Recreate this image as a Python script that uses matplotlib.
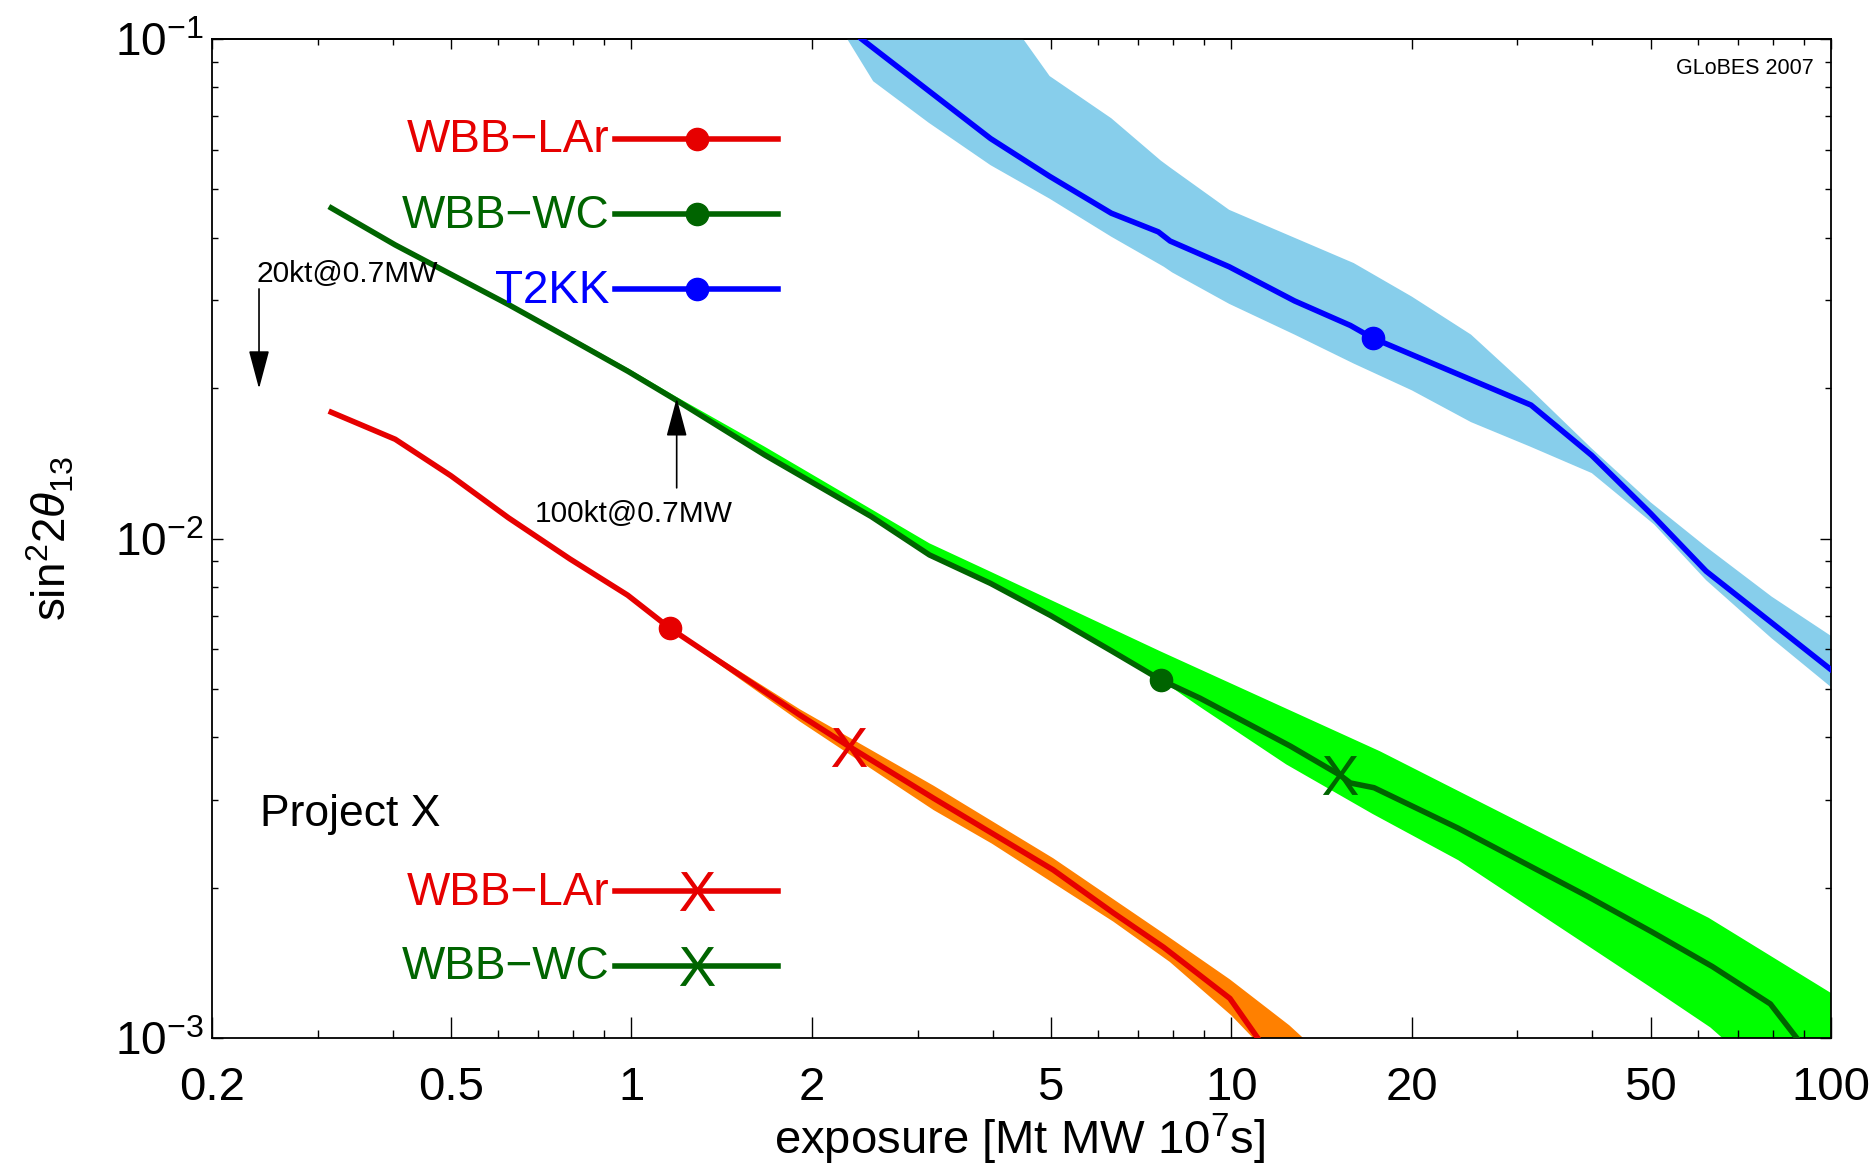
import matplotlib.pyplot as plt
from matplotlib.ticker import FixedLocator, FixedFormatter, NullFormatter, LogLocator

plt.rcParams['font.family'] = ['Liberation Sans', 'DejaVu Sans']
plt.rcParams['mathtext.fontset'] = 'custom'
plt.rcParams['mathtext.rm'] = 'Liberation Sans'
plt.rcParams['mathtext.it'] = 'Liberation Sans:italic'
plt.rcParams['mathtext.bf'] = 'Liberation Sans:bold'

# WBB-LAr (red line, orange band)
lar_x = [0.316, 0.404, 0.5, 0.624, 0.79, 0.986, 1.16, 1.91, 2.31, 3.19, 5.05, 6.36, 7.71, 9.95, 11.2]
lar_y = [0.0179, 0.0158, 0.01336, 0.0110, 0.0091, 0.0077, 0.00661, 0.00443, 0.00383, 0.00302,
         0.00217, 0.00178, 0.00152, 0.0012, 0.00098]
lar_hi_x = [0.316, 0.404, 0.5, 0.624, 0.79, 0.986, 1.16, 1.91, 3.19, 5.05, 7.71, 9.95, 12.5, 13.3, 14.0]
lar_hi_y = [0.0180, 0.0159, 0.01344, 0.01107, 0.00916, 0.00775, 0.00665, 0.00455, 0.0032,
            0.00229, 0.00162, 0.00131, 0.00106, 0.00099, 0.0009]
lar_lo_x = [0.316, 0.404, 0.5, 0.624, 0.79, 0.986, 1.16, 1.91, 3.19, 3.99, 6.36, 7.9, 10.0, 10.96, 11.5]
lar_lo_y = [0.0178, 0.0157, 0.01328, 0.01093, 0.00904, 0.00765, 0.00657, 0.0043, 0.00286,
            0.00245, 0.00171, 0.00142, 0.00111, 0.00099, 0.0009]

# WBB-WC (dark green line, green band)
wc_x = [0.316, 0.404, 0.624, 0.786, 0.988, 1.19, 1.668, 2.51, 3.14, 3.97, 5.0, 6.34, 7.63,
        8.87, 12.55, 15.18, 15.8, 17.3, 23.9, 39.3, 50.3, 63.4, 79.2, 88.2]
wc_y = [0.0459, 0.0387, 0.0294, 0.0252, 0.0216, 0.0189, 0.0147, 0.01107, 0.00927, 0.00813,
        0.00701, 0.00594, 0.00521, 0.00479, 0.00384, 0.00336, 0.00324, 0.00317, 0.00263,
        0.00192, 0.00163, 0.00139, 0.00117, 0.00099]
wc_hi_x = [0.316, 0.404, 0.624, 0.786, 0.988, 1.19, 1.668, 3.14, 3.97, 7.63, 17.7, 49.7, 62.5, 100]
wc_hi_y = [0.0463, 0.0391, 0.0297, 0.0255, 0.0219, 0.0192, 0.01527, 0.00978, 0.00858, 0.00594,
           0.00375, 0.0020, 0.00174, 0.00123]
wc_lo_x = [0.316, 0.404, 0.624, 0.786, 0.988, 1.19, 1.668, 2.51, 3.14, 3.97, 5.0, 6.34, 7.63,
           8.87, 12.35, 17.2, 23.9, 39.3, 49.7, 62.9, 66.5, 80, 100]
wc_lo_y = [0.0459, 0.0387, 0.0294, 0.0252, 0.0216, 0.0189, 0.0147, 0.01107, 0.00927, 0.00813,
           0.00701, 0.00594, 0.00521, 0.0046, 0.00353, 0.00281, 0.00227, 0.00153, 0.00127,
           0.00105, 0.00099, 0.0008, 0.00065]

# T2KK (blue line, light blue band)
t2kk_x = [2.42, 3.97, 4.98, 6.31, 7.56, 7.91, 9.92, 12.75, 15.8, 17.2, 31.6, 39.9, 50.0, 61.9, 79.6, 100]
t2kk_y = [0.100, 0.0632, 0.0531, 0.0448, 0.0411, 0.0394, 0.0350, 0.0299, 0.0267, 0.0252,
          0.0185, 0.01467, 0.01123, 0.0086, 0.00678, 0.00546]
t2kk_hi_x = [2.2, 4.5, 4.98, 6.31, 7.63, 7.91, 9.92, 16.0, 20.0, 25.1, 31.4, 39.9, 50, 61.9, 79.6, 100]
t2kk_hi_y = [0.2, 0.1, 0.0843, 0.0694, 0.0571, 0.0553, 0.0455, 0.0356, 0.0305, 0.0256, 0.0200,
             0.01514, 0.01182, 0.00962, 0.00765, 0.00638]
t2kk_lo_x = [2.2, 2.29, 2.53, 3.13, 3.97, 4.98, 6.31, 7.72, 7.97, 9.92, 12.75, 16.0, 20.0, 25.1,
             31.4, 39.9, 50.7, 61.9, 79.6, 100]
t2kk_lo_y = [0.11, 0.1, 0.0823, 0.068, 0.0559, 0.0479, 0.0402, 0.035, 0.0341, 0.0295, 0.0256,
             0.0224, 0.0198, 0.0171, 0.0153, 0.01352, 0.01067, 0.00825, 0.00631, 0.00504]

# index of the dot / X marker on each line
lar_dot, lar_cross = 6, 8
wc_dot, wc_cross = 12, 15
t2kk_dot = 9

xticks_major = [0.2, 0.5, 1, 2, 5, 10, 20, 50, 100]
xtick_labels = ['0.2', '0.5', '1', '2', '5', '10', '20', '50', '100']
xticks_minor = [0.3, 0.4, 0.6, 0.7, 0.8, 0.9, 3, 4, 6, 7, 8, 9, 30, 40, 60, 70, 80, 90]

RED = '#e60000'
ORANGE = '#ff8000'
DKGREEN = '#006400'
GREEN = '#00ff00'
BLUE = '#0000ff'
SKY = '#87ceeb'
LW = 4.0
CROSS = r'$\mathrm{X}$'

fig = plt.figure(figsize=(18.75, 11.68), dpi=100)
ax = fig.add_axes([0.1131, 0.1113, 0.8635, 0.8553])
ax.set_xscale('log')
ax.set_yscale('log')
ax.set_xlim(0.2, 100)
ax.set_ylim(1e-3, 1e-1)


def band(xh, yh, xl, yl, color):
    px = list(xh) + list(xl)[::-1]
    py = list(yh) + list(yl)[::-1]
    ax.fill(px, py, color=color, lw=0, zorder=1)


band(lar_hi_x, lar_hi_y, lar_lo_x, lar_lo_y, ORANGE)
band(wc_hi_x, wc_hi_y, wc_lo_x, wc_lo_y, GREEN)
band(t2kk_hi_x, t2kk_hi_y, t2kk_lo_x, t2kk_lo_y, SKY)

ax.plot(lar_x, lar_y, color=RED, lw=LW, zorder=3)
ax.plot(wc_x, wc_y, color=DKGREEN, lw=LW, zorder=3)
ax.plot(t2kk_x, t2kk_y, color=BLUE, lw=LW, zorder=3)

ax.plot(lar_x, lar_y, ls='none', marker='o', ms=16, color=RED, markevery=[lar_dot], zorder=4)
ax.plot(wc_x, wc_y, ls='none', marker='o', ms=16, color=DKGREEN, markevery=[wc_dot], zorder=4)
ax.plot(t2kk_x, t2kk_y, ls='none', marker='o', ms=16, color=BLUE, markevery=[t2kk_dot], zorder=4)
ax.plot(lar_x, lar_y, ls='none', marker=CROSS, ms=28, mew=0, color=RED,
        markevery=[lar_cross], zorder=4)
ax.plot(wc_x, wc_y, ls='none', marker=CROSS, ms=28, mew=0, color=DKGREEN,
        markevery=[wc_cross], zorder=4)

# hand-made legend: text on the left, line sample on the right
def key(ypos, label, color, marker, ms, mew):
    ax.text(0.2452, ypos - 0.0135, label, color=color, fontsize=33,
            ha='right', va='baseline', transform=ax.transAxes)
    ax.plot([0.2489, 0.3496], [ypos, ypos], color=color, lw=LW, transform=ax.transAxes,
            clip_on=False)
    ax.plot([0.2996], [ypos], marker=marker, ms=ms, mew=mew, color=color,
            transform=ax.transAxes, clip_on=False)


key(0.8999, 'WBB\u2212LAr', RED, 'o', 16, 1)
key(0.8248, 'WBB\u2212WC', DKGREEN, 'o', 16, 1)
key(0.7497, 'T2KK', BLUE, 'o', 16, 1)
ax.text(0.0296, 0.2122, 'Project X', fontsize=32, ha='left', va='baseline',
        transform=ax.transAxes)
key(0.1471, 'WBB\u2212LAr', RED, CROSS, 28, 0)
key(0.0724, 'WBB\u2212WC', DKGREEN, CROSS, 28, 0)

# exposure annotations
arrow = dict(arrowstyle='-|>,head_length=1.2,head_width=0.32', color='black', lw=1.2,
             shrinkA=0, shrinkB=0, mutation_scale=20)
ax.annotate('', xy=(0.2395, 0.01995), xytext=(0.2395, 0.0316), arrowprops=arrow, zorder=5)
ax.text(0.2375, 0.0338, '20kt@0.7MW', fontsize=21.5, ha='left', va='center')
ax.annotate('', xy=(1.19, 0.0191), xytext=(1.19, 0.01263), arrowprops=arrow, zorder=5)
ax.text(0.691, 0.0112, '100kt@0.7MW', fontsize=21.5, ha='left', va='center')

ax.text(0.989, 0.97, 'GLoBES 2007', fontsize=15.5, ha='right', va='center',
        transform=ax.transAxes)

# axes, ticks and labels
ax.xaxis.set_major_locator(FixedLocator(xticks_major))
ax.xaxis.set_major_formatter(FixedFormatter(xtick_labels))
ax.xaxis.set_minor_locator(FixedLocator(xticks_minor))
ax.xaxis.set_minor_formatter(NullFormatter())
ax.yaxis.set_minor_locator(LogLocator(base=10, subs=range(2, 10)))
ax.yaxis.set_minor_formatter(NullFormatter())

ax.tick_params(axis='x', which='major', direction='in', length=15, width=1, labelsize=34, pad=20)
ax.tick_params(axis='x', which='minor', direction='in', length=5.5, width=1)
ax.tick_params(axis='y', which='major', direction='in', length=8, width=1, labelsize=33,
               pad=6, left=True, right=True)
ax.tick_params(axis='y', which='minor', direction='in', length=4.3, width=1, left=True, right=True)

top = ax.secondary_xaxis('top')
top.xaxis.set_major_locator(FixedLocator(xticks_major))
top.xaxis.set_minor_locator(FixedLocator(xticks_minor))
top.xaxis.set_major_formatter(NullFormatter())
top.xaxis.set_minor_formatter(NullFormatter())
top.tick_params(which='major', direction='in', length=7, width=1)
top.tick_params(which='minor', direction='in', length=4, width=1)

for s in ax.spines.values():
    s.set_linewidth(1.3)
top.spines['top'].set_linewidth(1.3)

ax.text(0.499, -0.102, r'exposure [Mt MW 10$^7$s]', fontsize=34, ha='center', va='center',
        transform=ax.transAxes)
ax.text(-0.0994, 0.5, r'sin$^2$2$\theta_{13}$', fontsize=33, rotation=90, ha='center',
        va='center', transform=ax.transAxes)

fig.savefig('out.png', dpi=100)
